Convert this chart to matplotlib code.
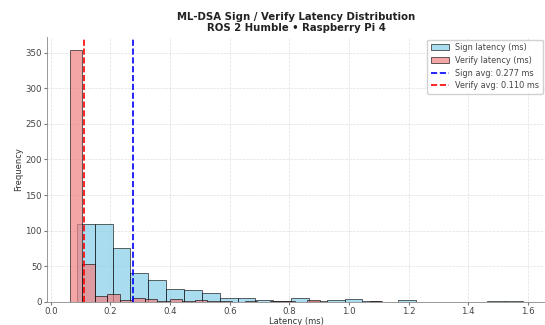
import numpy as np
import matplotlib
matplotlib.use("Agg")
import matplotlib.pyplot as plt

# histogram counts (25 bins each)
sign_min, sign_max = 0.088, 1.583
sign_counts = [110, 110, 76, 41, 31, 18, 17, 13, 6, 5, 2, 1, 6,
               1, 3, 4, 1, 0, 2, 0, 0, 0, 0, 1, 1]
verify_min, verify_max = 0.063, 1.111
verify_counts = [354, 53, 9, 11, 3, 6, 4, 1, 4, 1, 3, 1, 1,
                 0, 1, 0, 1, 1, 0, 3, 0, 0, 0, 0, 1]
sign_avg = 0.277
verify_avg = 0.110

title = "ML-DSA Sign / Verify Latency Distribution\nROS 2 Humble \u2022 Raspberry Pi 4"


def hist_from_counts(ax, lo, hi, counts, **kw):
    # rebuild a histogram from its bin counts
    edges = np.linspace(lo, hi, len(counts) + 1)
    centers = (edges[:-1] + edges[1:]) / 2
    ax.hist(centers, bins=edges, weights=counts, **kw)


fig = plt.figure(figsize=(5.45, 3.25), dpi=100)
ax = fig.add_axes([0.086, 0.071, 0.915, 0.815])

hist_from_counts(ax, sign_min, sign_max, sign_counts,
                 color="skyblue", alpha=0.7, edgecolor="black", linewidth=0.6,
                 label="Sign latency (ms)")
hist_from_counts(ax, verify_min, verify_max, verify_counts,
                 color="lightcoral", alpha=0.7, edgecolor="black", linewidth=0.6,
                 label="Verify latency (ms)")

ax.axvline(sign_avg, color="blue", linestyle="--", linewidth=1.2,
           label=f"Sign avg: {sign_avg:.3f} ms")
ax.axvline(verify_avg, color="red", linestyle="--", linewidth=1.2,
           label=f"Verify avg: {verify_avg:.3f} ms")

ax.set_title(title, fontsize=7.3, fontweight="bold", pad=4, color="#222222")
ax.set_xlabel("Latency (ms)", fontsize=6, labelpad=1, color="#333333")
ax.set_ylabel("Frequency", fontsize=6, labelpad=2, color="#333333")
ax.tick_params(labelsize=6.2, length=2, pad=1.5, colors="#777777", labelcolor="#444444")
ax.grid(True, linestyle="--", linewidth=0.5, alpha=0.4)
ax.set_axisbelow(True)
ax.spines["top"].set_visible(False)
ax.spines["right"].set_visible(False)
for s in ["left", "bottom"]:
    ax.spines[s].set_color("#888888")
    ax.spines[s].set_linewidth(0.6)

leg = ax.legend(loc="upper right", bbox_to_anchor=(1.0, 1.0), fontsize=5.9,
                frameon=True, framealpha=0.9, borderpad=0.45, labelspacing=0.45,
                handlelength=2.2, borderaxespad=0.3)
for t in leg.get_texts():
    t.set_color("#444444")

fig.savefig("out.png", dpi=100)
